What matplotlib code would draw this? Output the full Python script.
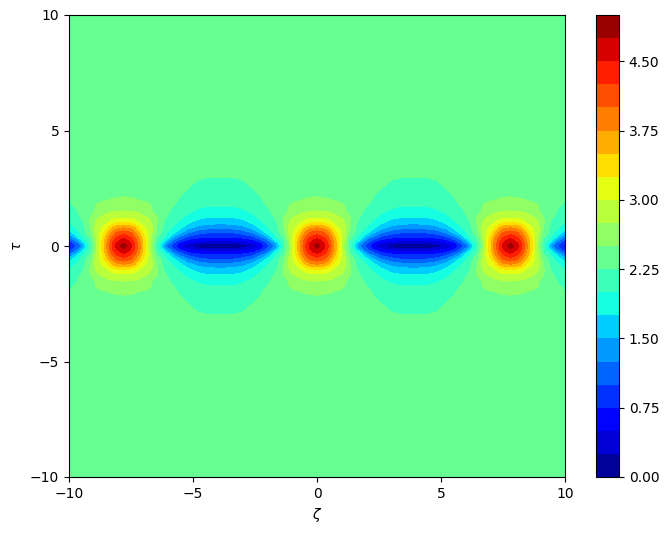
import numpy as np
import matplotlib
matplotlib.use("Agg")
import matplotlib.pyplot as plt

# values, one half period, upper half plane
zeta_half = [0, 0.15, 0.3, 0.45, 0.6, 0.75, 0.9, 1.05, 1.2, 1.35, 1.5, 1.7, 1.9, 2.1, 2.3, 2.6, 3.0, 3.4, 3.9]
tau_half = [0, 0.12, 0.25, 0.4, 0.6, 0.8, 1.0, 1.25, 1.5, 1.75, 2.0, 2.5, 3.0, 3.5, 10.0]
period = 7.8

# one row for each zeta, one entry for each tau
amp_half = [
    [4.95, 4.75, 4.60, 4.37, 4.10, 3.72, 3.28, 2.95, 2.76, 2.63, 2.53, 2.42, 2.38, 2.36, 2.33],
    [4.70, 4.62, 4.50, 4.30, 4.05, 3.70, 3.27, 2.94, 2.75, 2.62, 2.52, 2.42, 2.38, 2.36, 2.33],
    [4.53, 4.48, 4.38, 4.20, 3.97, 3.62, 3.22, 2.92, 2.74, 2.62, 2.52, 2.42, 2.38, 2.36, 2.33],
    [4.27, 4.23, 4.14, 4.00, 3.78, 3.50, 3.14, 2.90, 2.73, 2.61, 2.51, 2.41, 2.38, 2.36, 2.33],
    [3.93, 3.91, 3.85, 3.73, 3.52, 3.27, 3.03, 2.86, 2.71, 2.59, 2.50, 2.41, 2.37, 2.36, 2.33],
    [3.57, 3.56, 3.52, 3.43, 3.27, 3.08, 2.94, 2.80, 2.67, 2.56, 2.48, 2.40, 2.37, 2.36, 2.33],
    [3.20, 3.19, 3.18, 3.14, 3.05, 2.98, 2.90, 2.76, 2.62, 2.55, 2.47, 2.39, 2.37, 2.35, 2.33],
    [2.82, 2.83, 2.86, 2.90, 2.90, 2.86, 2.80, 2.72, 2.58, 2.52, 2.44, 2.38, 2.36, 2.35, 2.33],
    [2.44, 2.46, 2.50, 2.58, 2.68, 2.72, 2.68, 2.58, 2.48, 2.47, 2.41, 2.36, 2.35, 2.35, 2.33],
    [2.12, 2.14, 2.20, 2.28, 2.40, 2.47, 2.51, 2.50, 2.43, 2.38, 2.36, 2.34, 2.34, 2.35, 2.33],
    [1.75, 1.85, 2.02, 2.17, 2.28, 2.30, 2.33, 2.35, 2.35, 2.34, 2.33, 2.33, 2.34, 2.35, 2.33],
    [1.26, 1.44, 1.75, 1.93, 2.08, 2.14, 2.20, 2.26, 2.30, 2.31, 2.32, 2.33, 2.34, 2.35, 2.33],
    [1.00, 1.14, 1.33, 1.70, 1.88, 2.06, 2.14, 2.20, 2.24, 2.27, 2.29, 2.32, 2.33, 2.34, 2.33],
    [0.75, 0.90, 1.09, 1.40, 1.75, 1.90, 2.03, 2.14, 2.20, 2.24, 2.27, 2.31, 2.33, 2.34, 2.33],
    [0.48, 0.65, 0.92, 1.20, 1.56, 1.79, 1.93, 2.05, 2.14, 2.19, 2.23, 2.29, 2.32, 2.33, 2.33],
    [0.27, 0.47, 0.68, 0.97, 1.30, 1.58, 1.78, 1.93, 2.04, 2.11, 2.17, 2.25, 2.29, 2.31, 2.33],
    [0.11, 0.33, 0.60, 0.84, 1.12, 1.42, 1.63, 1.82, 1.96, 2.05, 2.11, 2.21, 2.265, 2.29, 2.33],
    [0.05, 0.25, 0.54, 0.78, 1.04, 1.34, 1.57, 1.76, 1.91, 2.01, 2.08, 2.19, 2.255, 2.285, 2.33],
    [0.02, 0.24, 0.53, 0.77, 1.03, 1.32, 1.54, 1.75, 1.90, 2.01, 2.07, 2.18, 2.252, 2.28, 2.33],
]

levels = np.arange(0, 5.25, 0.25)
cbar_ticks = [0, 0.75, 1.5, 2.25, 3.0, 3.75, 4.5]

# the field is mirrored in both axes and repeats along zeta
z = np.array(zeta_half)
t = np.array(tau_half)
a = np.array(amp_half)

z_period = np.concatenate([-z[:0:-1], z])
a_period = np.concatenate([a[:0:-1], a], axis=0)
z_all = np.concatenate([z_period - period, z_period[1:], z_period[1:] + period])
a_all = np.concatenate([a_period, a_period[1:], a_period[1:]], axis=0)
t_all = np.concatenate([-t[:0:-1], t])
a_all = np.concatenate([a_all[:, :0:-1], a_all], axis=1)

fig = plt.figure(figsize=(6.69, 5.34), dpi=100)
ax = fig.add_axes([69 / 669, 57 / 534, 496 / 669, 462 / 534])
cax = fig.add_axes([596 / 669, 57 / 534, 23 / 669, 462 / 534])

cs = ax.contourf(z_all, t_all, a_all.T, levels=levels, cmap="jet")
ax.set_xlim(-10, 10)
ax.set_ylim(-10, 10)
ax.set_xticks([-10, -5, 0, 5, 10])
ax.set_yticks([-10, -5, 0, 5, 10])
ax.set_xlabel(r"$\zeta$")
ax.set_ylabel(r"$\tau$")

cbar = fig.colorbar(cs, cax=cax)
cbar.set_ticks(cbar_ticks)
cbar.set_ticklabels(["%.2f" % v for v in cbar_ticks])

fig.savefig("out.png", dpi=100)
